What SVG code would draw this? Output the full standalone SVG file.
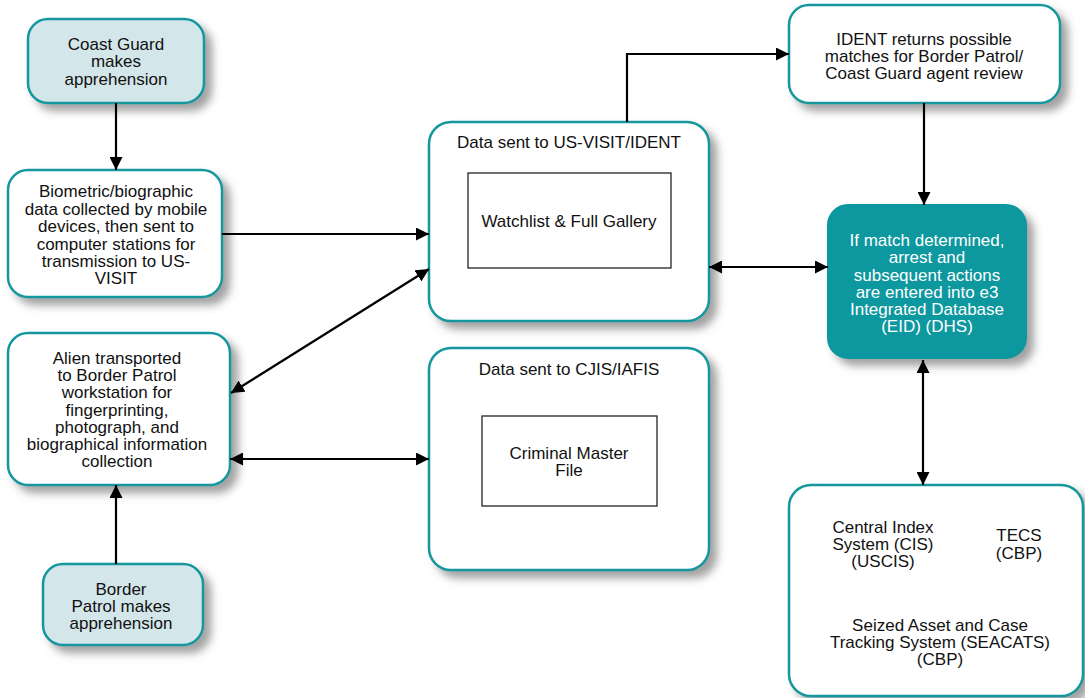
<svg xmlns="http://www.w3.org/2000/svg" width="1085" height="698" viewBox="0 0 1085 698">
<style>
  .box{fill:#ffffff;stroke:#13979e;stroke-width:2.5;filter:url(#sh)}
  .lb{fill:#d3e6ea;stroke:#13979e;stroke-width:2.5;filter:url(#sh)}
  .tb{fill:#0e979e;stroke:#0e979e;stroke-width:2;filter:url(#sh)}
  .inner{fill:#ffffff;stroke:#222222;stroke-width:1.3}
  text{font-family:"Liberation Sans",Arial,sans-serif;font-size:17px;fill:#111111;text-anchor:middle}
  .w{fill:#ffffff}
  .c{fill:none;stroke:#000000;stroke-width:2.2}
</style>
<defs>
  <filter id="sh" x="-20%" y="-20%" width="150%" height="150%">
    <feDropShadow dx="7" dy="7" stdDeviation="4" flood-color="#555555" flood-opacity="0.55"/>
  </filter>
  <marker id="ah" viewBox="0 0 13 13" refX="13" refY="6.5" markerWidth="13" markerHeight="13" markerUnits="userSpaceOnUse" orient="auto-start-reverse">
    <path d="M0,0 L13,6.5 L0,13 Z" fill="#000000"/>
  </marker>
</defs>
<rect width="1085" height="698" fill="#ffffff"/>

<g id="coast-guard">
  <rect class="lb" x="28" y="19" width="176" height="84" rx="20"/>
  <text x="116" y="50">Coast Guard</text>
  <text x="116" y="67">makes</text>
  <text x="116" y="85">apprehension</text>
</g>

<g id="biometric">
  <rect class="box" x="8" y="170" width="214" height="127" rx="20"/>
  <text x="116" y="197">Biometric/biographic</text>
  <text x="116" y="215">data collected by mobile</text>
  <text x="116" y="232">devices, then sent to</text>
  <text x="116" y="250">computer stations for</text>
  <text x="116" y="267">transmission to US-</text>
  <text x="116" y="284">VISIT</text>
</g>

<g id="alien">
  <rect class="box" x="8" y="333" width="222" height="152" rx="20"/>
  <text x="117" y="364">Alien transported</text>
  <text x="117" y="381">to Border Patrol</text>
  <text x="117" y="398">workstation for</text>
  <text x="117" y="416">fingerprinting,</text>
  <text x="117" y="433">photograph, and</text>
  <text x="117" y="450">biographical information</text>
  <text x="117" y="467">collection</text>
</g>

<g id="border-patrol">
  <rect class="lb" x="43" y="564" width="160" height="81" rx="20"/>
  <text x="121" y="595">Border</text>
  <text x="121" y="612">Patrol makes</text>
  <text x="121" y="629">apprehension</text>
</g>

<g id="us-visit">
  <rect class="box" x="429" y="122" width="280" height="199" rx="22"/>
  <text x="569" y="148">Data sent to US-VISIT/IDENT</text>
  <rect class="inner" x="468" y="173" width="203" height="95"/>
  <text x="569" y="227">Watchlist &amp; Full Gallery</text>
</g>

<g id="cjis">
  <rect class="box" x="429" y="348" width="280" height="222" rx="22"/>
  <text x="569" y="375">Data sent to CJIS/IAFIS</text>
  <rect class="inner" x="482" y="416" width="175" height="90"/>
  <text x="569" y="459">Criminal Master</text>
  <text x="569" y="476">File</text>
</g>

<g id="ident">
  <rect class="box" x="789" y="5" width="271" height="98" rx="20"/>
  <text x="924" y="45">IDENT returns possible</text>
  <text x="924" y="62">matches for Border Patrol/</text>
  <text x="924" y="79">Coast Guard agent review</text>
</g>

<g id="eid">
  <rect class="tb" x="828" y="205" width="198" height="153" rx="20"/>
  <text class="w" x="927" y="246">If match determined,</text>
  <text class="w" x="927" y="263">arrest and</text>
  <text class="w" x="927" y="281">subsequent actions</text>
  <text class="w" x="927" y="298">are entered into e3</text>
  <text class="w" x="927" y="315">Integrated Database</text>
  <text class="w" x="927" y="332">(EID) (DHS)</text>
</g>

<g id="systems">
  <rect class="box" x="789" y="485" width="294" height="211" rx="22"/>
  <text x="883" y="533">Central Index</text>
  <text x="883" y="550">System (CIS)</text>
  <text x="883" y="567">(USCIS)</text>
  <text x="1019" y="541">TECS</text>
  <text x="1019" y="559">(CBP)</text>
  <text x="940" y="631">Seized Asset and Case</text>
  <text x="940" y="648">Tracking System (SEACATS)</text>
  <text x="940" y="665">(CBP)</text>
</g>

<g id="connectors">
  <line class="c" x1="116" y1="103" x2="116" y2="170" marker-end="url(#ah)"/>
  <line class="c" x1="116" y1="564" x2="116" y2="485" marker-end="url(#ah)"/>
  <line class="c" x1="222" y1="234" x2="429" y2="234" marker-end="url(#ah)"/>
  <line class="c" x1="231" y1="393" x2="429" y2="269" marker-start="url(#ah)" marker-end="url(#ah)"/>
  <line class="c" x1="230" y1="459" x2="429" y2="459" marker-start="url(#ah)" marker-end="url(#ah)"/>
  <polyline class="c" points="627,122 627,54 789,54" marker-end="url(#ah)"/>
  <line class="c" x1="709" y1="267" x2="828" y2="267" marker-start="url(#ah)" marker-end="url(#ah)"/>
  <line class="c" x1="924" y1="103" x2="924" y2="205" marker-end="url(#ah)"/>
  <line class="c" x1="923" y1="360" x2="923" y2="485" marker-start="url(#ah)" marker-end="url(#ah)"/>
</g>
</svg>
